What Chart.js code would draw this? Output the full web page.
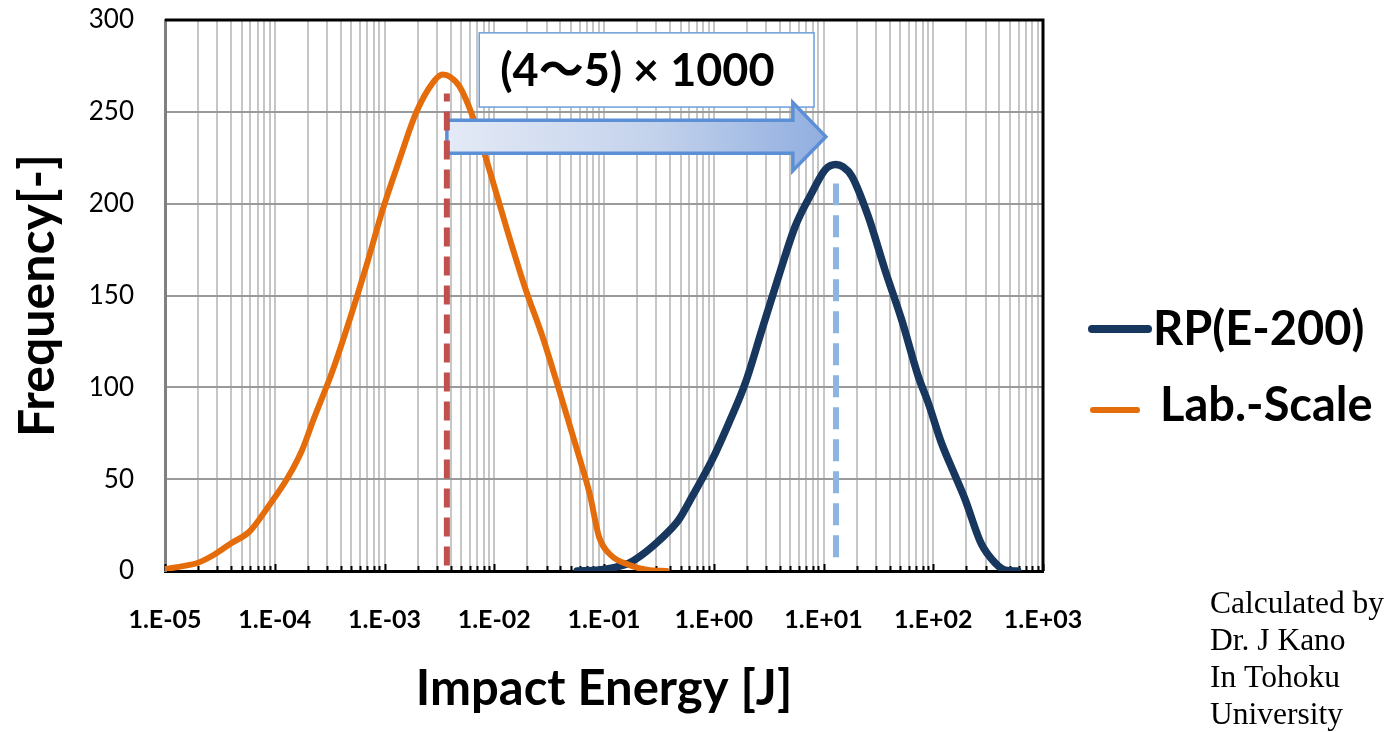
<!DOCTYPE html>
<html><head><meta charset="utf-8">
<script src="https://cdn.jsdelivr.net/npm/chart.js@4.4.0/dist/chart.umd.min.js"></script>
<style>html,body{margin:0;padding:0;background:#fff;} #wrap{position:relative;width:1393px;height:732px;}</style>
</head><body><div id="wrap"><canvas id="c"></canvas></div>
<script>
// ---- data ----
const seriesNames = ['RP(E-200)', 'Lab.-Scale'];

const labEnergy = [1.0e-5, 1.41e-5, 2.0e-5, 2.82e-5, 3.98e-5, 5.89e-5, 8.71e-5, 1.32e-4, 1.78e-4, 2.24e-4,
  3.39e-4, 4.81e-4, 6.82e-4, 9.66e-4, 1.37e-3, 1.94e-3, 2.75e-3, 3.39e-3, 3.98e-3, 4.81e-3,
  6.35e-3, 9.02e-3, 1.28e-2, 1.94e-2, 2.75e-2, 3.89e-2, 5.93e-2, 7.41e-2, 9.02e-2, 0.115,
  0.170, 0.251, 0.372];
const labFreq = [1, 2.5, 4.5, 9, 15, 21.5, 35, 51, 66, 82,
  109.6, 136.8, 166, 197, 224, 249.5, 265.8, 270.3, 269, 264,
  247.6, 218.6, 187.7, 153, 127.7, 98.7, 62.3, 42, 18.5, 8.7,
  3.3, 0.5, 0];

const rpEnergy = [0.0569, 0.0902, 0.126, 0.169, 0.224, 0.297, 0.380, 0.481, 0.635, 0.966,
  1.37, 1.94, 2.75, 3.90, 5.53, 7.83, 10.4, 12.9, 15.1, 18.1,
  25.6, 36.3, 51.5, 73.1, 90.2, 119, 158, 195, 273, 366,
  452, 589];
const rpFreq = [0, 0.5, 2, 4.3, 9, 15, 21, 28, 40.5, 60.5,
  80.5, 102.3, 131.4, 160.4, 187.7, 205.9, 218.6, 221.3, 220, 215,
  193, 164, 136.8, 105.9, 91.4, 69.6, 52, 39, 15, 4.4,
  0.5, 0];

const labPeakEnergy = 0.0037;
const labPeakRange = [3, 260];
const rpPeakEnergy = 13.0;
const rpPeakRange = [7.5, 211];

const xMajorTicks = [1e-5, 1e-4, 1e-3, 1e-2, 1e-1, 1, 10, 100, 1000];
const xTickLabels = ['1.E-05', '1.E-04', '1.E-03', '1.E-02', '1.E-01', '1.E+00', '1.E+01', '1.E+02', '1.E+03'];
const yTickStep = 50;
const yRange = [0, 300];

const annotationText = '(4\u301C5) \u00D7 1000';
const arrowFrom = labPeakEnergy, arrowTo = 10.5, arrowLevel = 236.5;
const boxEnergy = [0.0073, 8.2], boxFreq = [252.6, 293];
const creditLines = ['Calculated by', 'Dr. J Kano', 'In Tohoku', 'University'];

// ---- build ----
const toPts = (xs, ys) => xs.map((x, i) => ({x: x, y: ys[i]}));

const NAVY = '#17375E', ORANGE = '#E46C0A', RED = '#C0504D', LBLUE = '#8DB4E2';

const arrowPlugin = {
  id: 'arrowBox',
  afterDatasetDraw(chart, args) {
    if (args.index !== 1) return;
    const {ctx, scales: {x, y}} = chart;
    const bx1 = x.getPixelForValue(boxEnergy[0]), bx2 = x.getPixelForValue(boxEnergy[1]);
    const by1 = y.getPixelForValue(boxFreq[1]), by2 = y.getPixelForValue(boxFreq[0]);
    ctx.save();
    ctx.fillStyle = '#fff';
    ctx.fillRect(bx1, by1, bx2 - bx1, by2 - by1);
    ctx.strokeStyle = '#6C9DDA';
    ctx.lineWidth = 1.5;
    ctx.strokeRect(bx1, by1, bx2 - bx1, by2 - by1);
    ctx.fillStyle = '#000';
    ctx.font = 'bold 45px Lato, "Noto Sans CJK JP"';
    ctx.textBaseline = 'alphabetic';
    ctx.textAlign = 'left';
    ctx.fillText(annotationText, bx1 + 21, (by1 + by2) / 2 + 16);
    const ax1 = x.getPixelForValue(arrowFrom), ax2 = x.getPixelForValue(arrowTo);
    const ay = y.getPixelForValue(arrowLevel);
    const bh = 16.5, hh = 34, hl = 33;
    const g = ctx.createLinearGradient(ax1, 0, ax2, 0);
    g.addColorStop(0, '#E4EAF6');
    g.addColorStop(0.55, '#C3D2EC');
    g.addColorStop(1, '#90AEE0');
    ctx.beginPath();
    ctx.moveTo(ax1, ay - bh);
    ctx.lineTo(ax2 - hl, ay - bh);
    ctx.lineTo(ax2 - hl, ay - hh);
    ctx.lineTo(ax2, ay);
    ctx.lineTo(ax2 - hl, ay + hh);
    ctx.lineTo(ax2 - hl, ay + bh);
    ctx.lineTo(ax1, ay + bh);
    ctx.closePath();
    ctx.fillStyle = g;
    ctx.fill();
    ctx.strokeStyle = '#5B8FD6';
    ctx.lineWidth = 3.5;
    ctx.lineJoin = 'miter';
    ctx.stroke();
    ctx.restore();
  }
};

const framePlugin = {
  id: 'frame',
  beforeDatasetsDraw(chart) {
    const {ctx, chartArea: a, scales: {x}} = chart;
    ctx.save();
    ctx.strokeStyle = '#000';
    ctx.lineWidth = 2;
    x.ticks.forEach(t => {
      const px = Math.round(x.getPixelForValue(t.value)) + 0.5;
      const major = xMajorTicks.some(m => Math.abs(Math.log10(m) - Math.log10(t.value)) < 1e-6);
      ctx.beginPath();
      ctx.moveTo(px, a.bottom);
      ctx.lineTo(px, a.bottom - (major ? 7 : 5));
      ctx.stroke();
    });
    ctx.restore();
  },
  afterDraw(chart) {
    const {ctx, chartArea: a} = chart;
    ctx.save();
    ctx.strokeStyle = '#000';
    ctx.lineWidth = 3;
    ctx.beginPath();
    ctx.moveTo(a.left, a.top);
    ctx.lineTo(a.right, a.top);
    ctx.lineTo(a.right, a.bottom);
    ctx.stroke();
    const items = [
      {ds: 0, y: 329, x1: 1092, x2: 1148, w: 8, tx: 1153, ty: 345},
      {ds: 1, y: 410, x1: 1093, x2: 1137, w: 6, tx: 1160, ty: 421}
    ];
    ctx.lineCap = 'round';
    items.forEach(it => {
      const d = chart.data.datasets[it.ds];
      ctx.strokeStyle = d.borderColor;
      ctx.lineWidth = it.w;
      ctx.beginPath();
      ctx.moveTo(it.x1, it.y);
      ctx.lineTo(it.x2, it.y);
      ctx.stroke();
      ctx.fillStyle = '#000';
      ctx.font = 'bold 47px Lato';
      ctx.textBaseline = 'alphabetic';
      ctx.fillText(d.label, it.tx, it.ty);
    });
    ctx.font = '31.5px "Liberation Serif", "Times New Roman", serif';
    ctx.fillStyle = '#000';
    creditLines.forEach((s, i) => ctx.fillText(s, 1210, 613 + i * 37));
    ctx.restore();
  }
};

new Chart(document.getElementById('c'), {
  type: 'line',
  data: {
    datasets: [
      {label: seriesNames[0], data: toPts(rpEnergy, rpFreq), borderColor: NAVY, borderWidth: 7.5,
       pointRadius: 0, cubicInterpolationMode: 'monotone', borderCapStyle: 'round', borderJoinStyle: 'round', order: 3},
      {label: seriesNames[1], data: toPts(labEnergy, labFreq), borderColor: ORANGE, borderWidth: 6,
       pointRadius: 0, cubicInterpolationMode: 'monotone', borderCapStyle: 'round', borderJoinStyle: 'round', order: 2},
      {label: 'labPeak', data: toPts([labPeakEnergy, labPeakEnergy], labPeakRange), borderColor: RED, borderWidth: 6,
       borderDash: [19, 10], pointRadius: 0, order: 1},
      {label: 'rpPeak', data: toPts([rpPeakEnergy, rpPeakEnergy], rpPeakRange), borderColor: LBLUE, borderWidth: 6,
       borderDash: [22, 10], pointRadius: 0, order: 0}
    ]
  },
  options: {
    responsive: true,
    maintainAspectRatio: false,
    animation: false,
    layout: {padding: {left: 0, top: 20, right: 350, bottom: 0}},
    plugins: {legend: {display: false}, tooltip: {enabled: false}},
    scales: {
      x: {
        type: 'logarithmic',
        min: xMajorTicks[0], max: xMajorTicks[xMajorTicks.length - 1],
        afterBuildTicks(scale) {
          const t = [];
          for (let i = 0; i < xMajorTicks.length - 1; i++) {
            for (let m = 1; m <= 9; m++) t.push({value: m * xMajorTicks[i], major: m === 1});
          }
          t.push({value: xMajorTicks[xMajorTicks.length - 1], major: true});
          scale.ticks = t;
        },
        afterFit(scale) { scale.height = 161; },
        ticks: {
          autoSkip: false, maxRotation: 0, minRotation: 0, padding: 34,
          color: '#000', font: {family: 'Lato', size: 25, weight: 'bold'},
          callback(value) {
            const i = xMajorTicks.findIndex(m => Math.abs(Math.log10(m) - Math.log10(value)) < 1e-6);
            return i >= 0 ? xTickLabels[i] : '';
          }
        },
        grid: {color: '#C6C6C6', lineWidth: 2, drawTicks: false},
        border: {color: '#000', width: 3},
        title: {display: true, text: 'Impact Energy [J]', color: '#000',
          font: {family: 'Lato', size: 49, weight: 'bold', lineHeight: 1}, padding: {top: 0, bottom: 18}}
      },
      y: {
        min: yRange[0], max: yRange[1],
        afterFit(scale) { scale.width = 165; scale.paddingTop = 0; scale.paddingBottom = 0; },
        ticks: {stepSize: yTickStep, padding: 31, color: '#000', font: {family: 'Lato', size: 26}},
        grid: {color: '#9A9A9A', lineWidth: 2, drawTicks: false},
        border: {color: '#808080', width: 3},
        title: {display: true, text: 'Frequency[-]', color: '#000',
          font: {family: 'Lato', size: 50, weight: 'bold', lineHeight: 1}, padding: {top: 13, bottom: 0}}
      }
    }
  },
  plugins: [arrowPlugin, framePlugin]
});
</script>
</body></html>
